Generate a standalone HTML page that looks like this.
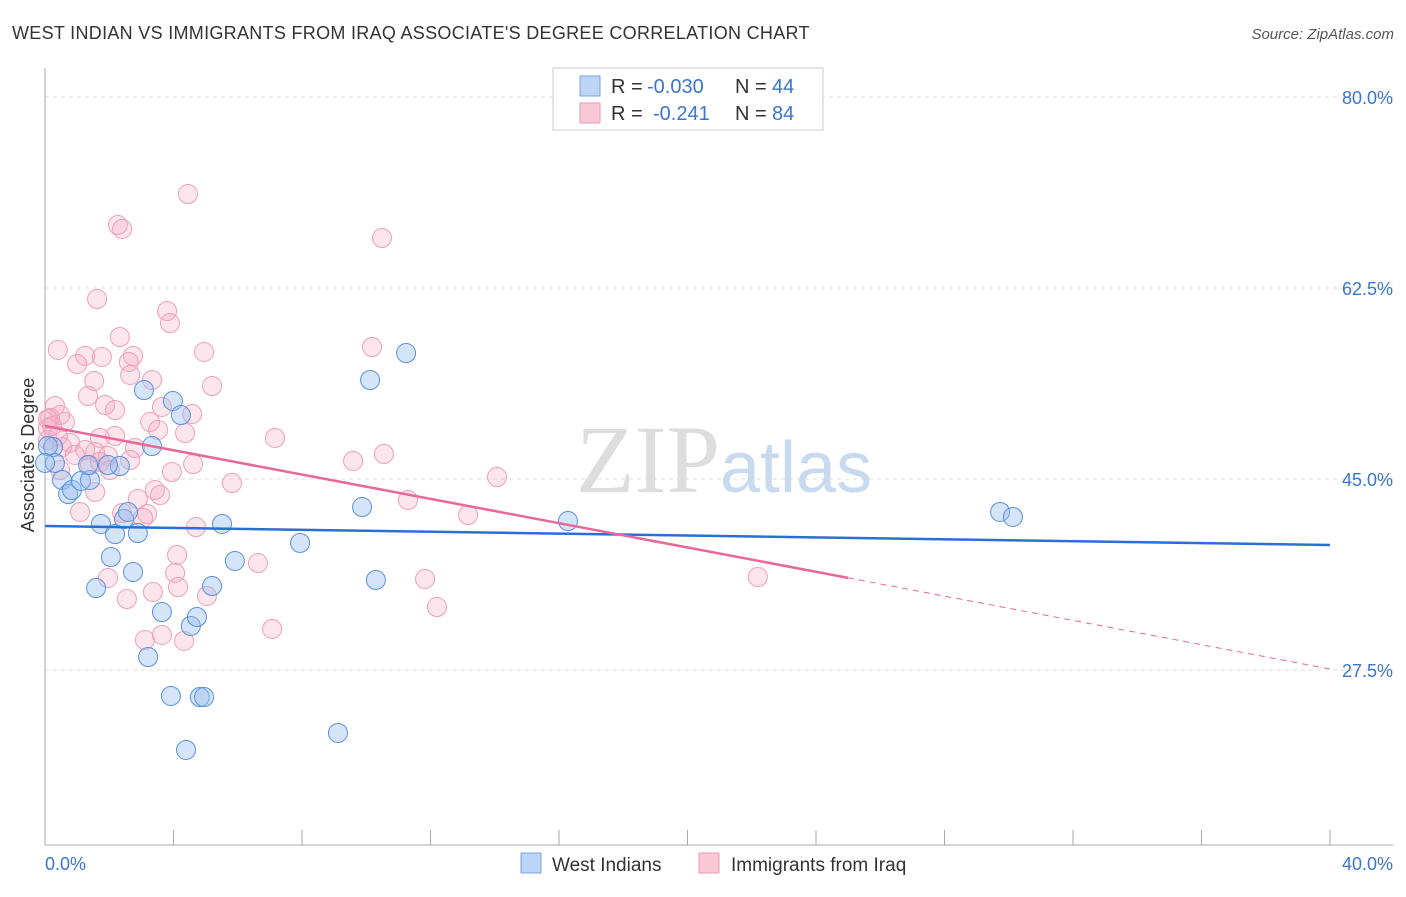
<!DOCTYPE html>
<html><head><meta charset="utf-8"><style>
body{margin:0;background:#fff;font-family:"Liberation Sans",sans-serif;}
</style></head><body>
<svg width="1406" height="892" xmlns="http://www.w3.org/2000/svg" font-family="Liberation Sans, sans-serif">
<text x="12" y="39" font-size="18" fill="#333" letter-spacing="0.3">WEST INDIAN VS IMMIGRANTS FROM IRAQ ASSOCIATE'S DEGREE CORRELATION CHART</text>
<text x="1394" y="39" font-size="15" fill="#555" font-style="italic" text-anchor="end">Source: ZipAtlas.com</text>
<g id="grid"></g>
<text x="720" y="492" font-size="96" fill="#ddd" text-anchor="end" font-family="Liberation Serif, serif">ZIP</text>
<text x="720" y="492" font-size="72" fill="#c8daf0">atlas</text>
<g id="pts"></g>
<g id="lines"></g>
<text transform="translate(34,455) rotate(-90)" font-size="18" fill="#333" text-anchor="middle">Associate's Degree</text>
<text x="45" y="870" font-size="18" fill="#3a76d0">0.0%</text>
<text x="1393" y="870" font-size="18" fill="#3a76d0" text-anchor="end">40.0%</text>
<g>
<rect x="553" y="68" width="270" height="62" fill="#fff" stroke="#ccc"/>
<rect x="580" y="76" width="20" height="20" fill="#bcd4f6" stroke="#7aa5e0"/>
<rect x="580" y="103" width="20" height="20" fill="#f9c8d6" stroke="#ee9ab4"/>
<text x="611" y="93" font-size="20" fill="#333">R =</text>
<text x="647" y="93" font-size="20" fill="#3a76d0">-0.030</text>
<text x="735" y="93" font-size="20" fill="#333">N =</text>
<text x="772" y="93" font-size="20" fill="#3a76d0">44</text>
<text x="611" y="120" font-size="20" fill="#333">R =</text>
<text x="653" y="120" font-size="20" fill="#3a76d0">-0.241</text>
<text x="735" y="120" font-size="20" fill="#333">N =</text>
<text x="772" y="120" font-size="20" fill="#3a76d0">84</text>
</g>
<g>
<rect x="521" y="853" width="20" height="20" fill="#bcd4f6" stroke="#7aa5e0"/>
<text x="552" y="871" font-size="19" fill="#333">West Indians</text>
<rect x="699" y="853" width="20" height="20" fill="#f9c8d6" stroke="#ee9ab4"/>
<text x="731" y="871" font-size="19" fill="#333">Immigrants from Iraq</text>
</g>
</svg>
<script>
const yTicks=[80,62.5,45,27.5];
const blueX=[0.25,0.31,0.53,0.72,0.84,1.12,1.40,1.34,1.74,2.05,2.18,2.33,2.46,2.58,2.74,2.89,1.59,3.08,3.21,3.33,3.64,3.92,3.98,4.23,4.39,4.54,4.73,4.82,4.95,5.20,5.51,5.91,7.94,9.12,9.87,10.12,10.30,11.24,16.28,29.73,30.13,0.09,0,1.96];
const blueY=[47.93,46.47,44.91,43.62,43.99,44.82,44.91,46.28,40.88,37.85,39.96,46.19,41.33,41.98,36.48,40.05,35.01,53.15,28.69,48.02,32.81,25.12,52.15,50.86,20.17,31.53,32.35,25.02,25.02,35.19,40.88,37.49,39.14,21.73,42.43,54.07,35.75,56.54,41.15,41.98,41.52,48.02,46.47,46.28];
const pinkX=[4.45,2.27,2.40,10.49,1.62,3.80,3.89,2.33,0.40,4.95,10.18,1.25,1.77,2.74,2.61,1.00,2.65,3.33,1.53,5.20,1.34,3.64,1.87,0.31,2.18,0.47,4.58,0.16,3.27,0.62,3.52,0.09,4.36,7.16,0.78,1.71,2.18,0.09,0.53,1.25,1.56,0.93,1.96,2.80,2.65,4.61,9.59,10.55,3.95,14.07,0.47,1.40,5.82,1.56,3.42,2.89,3.58,11.30,1.09,2.40,3.18,3.05,13.17,4.70,4.11,6.63,1.96,4.05,11.83,2.55,5.04,12.20,3.36,4.14,22.19,7.07,3.11,3.64,4.33,0.09,0.22,0.40,1.71,2.02];
const pinkY=[71.11,68.27,67.91,67.08,61.49,60.39,59.29,58.01,56.82,56.64,57.09,56.27,56.18,56.27,55.72,55.54,54.53,54.07,53.98,53.52,52.60,51.60,51.78,51.69,51.32,50.86,50.95,50.59,50.22,50.22,49.49,49.67,49.21,48.76,48.30,48.76,48.94,48.57,47.93,47.66,47.47,47.20,47.11,47.84,46.74,46.37,46.65,47.29,45.64,45.18,45.82,46.28,44.63,43.81,43.99,43.17,43.53,43.08,41.98,41.88,41.79,41.43,41.70,40.60,38.04,37.30,35.93,36.39,35.84,34.00,34.28,33.27,34.65,35.10,36.02,31.26,30.25,30.71,30.16,50.50,49.86,48.94,46.56,45.82];
const blueTrend=[40.69,38.95];
const pinkTrend=[49.86,27.59];
const NS="http://www.w3.org/2000/svg";
const X=v=>45+v*32.125, Y=v=>97+(80-v)*10.914;
function mk(t,a,p){const e=document.createElementNS(NS,t);for(const k in a)e.setAttribute(k,a[k]);p.appendChild(e);return e;}
const grid=document.getElementById('grid');
yTicks.forEach(t=>{
 const l=mk('line',{x1:45,x2:1393,y1:Y(t),y2:Y(t),stroke:'#ddd','stroke-dasharray':'4,4'},grid);
 
 
 const tx=mk('text',{x:1393,y:Y(t)+7,'font-size':18,fill:'#3a76d0','text-anchor':'end'},grid);
 tx.textContent=t.toFixed(1)+'%';
 
 
});
const ax=mk('line',{x1:45,x2:45,y1:68,y2:845,stroke:'#aaa'},grid);


const bx=mk('line',{x1:45,x2:1393,y1:845,y2:845,stroke:'#aaa'},grid);


for(let i=1;i<=10;i++){const t=mk('line',{x1:X(i*4),x2:X(i*4),y1:830,y2:845,stroke:'#aaa'},grid);
 
 }
const pts=document.getElementById('pts');
pinkX.forEach((x,i)=>{const c=mk('circle',{cx:X(x),cy:Y(pinkY[i]),r:9.5,fill:'rgba(246,170,195,0.3)',stroke:'#ef9fb9','stroke-width':1},pts);
 
 });
blueX.forEach((x,i)=>{const c=mk('circle',{cx:X(x),cy:Y(blueY[i]),r:9.5,fill:'rgba(150,190,240,0.4)',stroke:'#5a90dc','stroke-width':1},pts);
 
 });
const lines=document.getElementById('lines');
const bl=mk('line',{x1:X(0),y1:Y(blueTrend[0]),x2:X(40),y2:Y(blueTrend[1]),stroke:'#2a6fd6','stroke-width':2.5},lines);


const pm=v=>pinkTrend[0]+(pinkTrend[1]-pinkTrend[0])*v/40;
const pl=mk('line',{x1:X(0),y1:Y(pm(0)),x2:X(25),y2:Y(pm(25)),stroke:'#e8689a','stroke-width':2.5},lines);


const pd=mk('line',{x1:X(25),y1:Y(pm(25)),x2:X(40),y2:Y(pm(40)),stroke:'#e8689a','stroke-width':1,'stroke-dasharray':'6,5'},lines);


</script>
</body></html>
